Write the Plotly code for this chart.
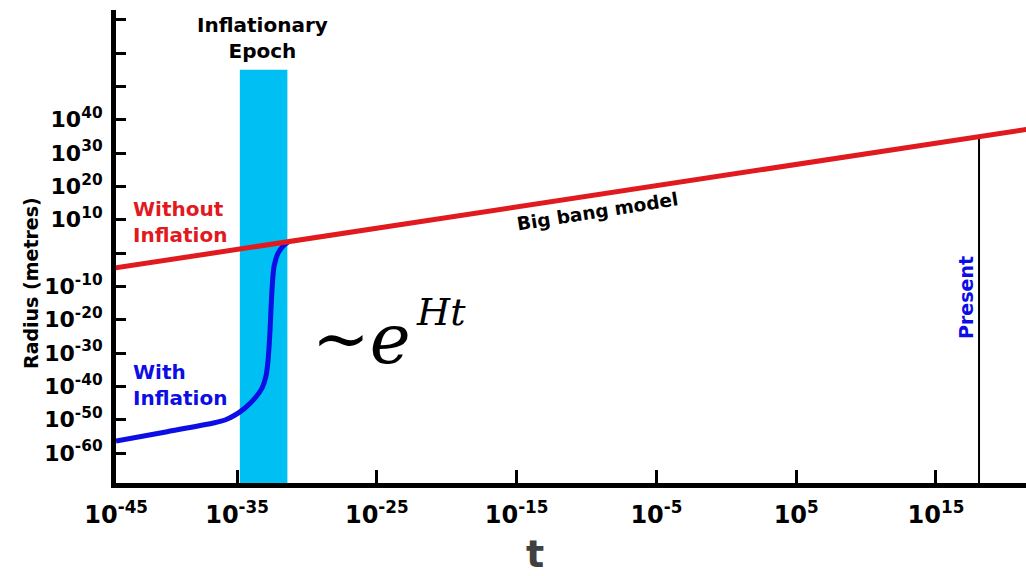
import plotly.graph_objects as go

# ---------------- data (log10 exponents) ----------------
x_tick_exp = [-45, -35, -25, -15, -5, 5, 15]
y_tick_exp = [-60, -50, -40, -30, -20, -10, 0, 10, 20, 30, 40, 50, 60, 70]
y_labelled = [-60, -50, -40, -30, -20, -10, 10, 20, 30, 40]

# "Without inflation" (big bang model) line
red_t_exp = [-45.0, 22.0]
red_r_exp = [-5.3, 37.4]

# "With inflation" curve
blue_t_exp = [-43.66, -40.0, -36.7, -35.86, -35.14, -34.43, -33.71, -33.21, -32.93,
              -32.78, -32.64, -32.5, -32.35, -32.06, -31.7, -31.35]
blue_r_exp = [-56.4, -53.6, -51.0, -50.1, -48.6, -46.5, -43.5, -40.5, -36.9,
              -32.1, -23.1, -11.1, -3.9, 0.0, 2.1, 3.3]

# inflationary epoch band
band_t_exp = [-34.8, -31.4]
band_top_exp = 55.0

# present day
present_t_exp = 18.08
present_r_exp = 34.8

# ---------------- layout geometry ----------------
W, H = 1026, 576
L, R, T, B = 116, 0, 10, 93
x_range = [-43.66, 21.44]
y_range = [-69.0, 72.9]

def p10(v):
    return 10.0 ** float(v)

def px(xp):
    return (xp - L) / (W - L - R)

def py(yp):
    return (H - B - yp) / (H - B - T)

RED = "#E01A1E"
BLUE = "#0D0DE6"
CYAN = "#00BFF2"
FONT = "DejaVu Sans"

fig = go.Figure()

# band
fig.add_trace(go.Scatter(
    x=[p10(band_t_exp[0]), p10(band_t_exp[0]), p10(band_t_exp[1]), p10(band_t_exp[1]), p10(band_t_exp[0])],
    y=[p10(y_range[0]), p10(band_top_exp), p10(band_top_exp), p10(y_range[0]), p10(y_range[0])],
    fill="toself", fillcolor=CYAN, line=dict(width=0), mode="lines",
    hoverinfo="skip", showlegend=False))

# present line
fig.add_trace(go.Scatter(
    x=[p10(present_t_exp), p10(present_t_exp)],
    y=[p10(y_range[0]), p10(present_r_exp)],
    mode="lines", line=dict(color="black", width=2), showlegend=False))

# with inflation
fig.add_trace(go.Scatter(
    x=[p10(v) for v in blue_t_exp], y=[p10(v) for v in blue_r_exp],
    mode="lines", line=dict(color=BLUE, width=5, shape="spline", smoothing=0.8),
    showlegend=False))

# without inflation
fig.add_trace(go.Scatter(
    x=[p10(v) for v in red_t_exp], y=[p10(v) for v in red_r_exp],
    mode="lines", line=dict(color=RED, width=5), showlegend=False))

x_tickvals = [p10(x_range[0] + 0.01)] + [p10(v) for v in x_tick_exp[1:]]
x_ticktext = [f"10<sup>{v}</sup>" for v in x_tick_exp]
y_tickvals = [p10(v) for v in y_tick_exp]
y_ticktext = [f"10<sup>{v}</sup>" if v in y_labelled else "" for v in y_tick_exp]

fig.update_xaxes(type="log", range=x_range, showgrid=False, zeroline=False,
                 showline=True, linecolor="black", linewidth=5,
                 ticks="inside", ticklen=13, tickwidth=3, tickcolor="black",
                 tickvals=x_tickvals, ticktext=x_ticktext, ticklabelstandoff=6,
                 tickfont=dict(family=FONT, size=24, color="black", weight="bold"))
fig.update_yaxes(type="log", range=y_range, showgrid=False, zeroline=False,
                 showline=True, linecolor="black", linewidth=5,
                 ticks="inside", ticklen=10, tickwidth=3, tickcolor="black",
                 tickvals=y_tickvals, ticktext=y_ticktext, ticklabelstandoff=4,
                 tickfont=dict(family=FONT, size=22, color="black", weight="bold"))

ann = []
def add(text, x, y, size, color="black", angle=0, xanchor="center", align="center",
        family=FONT, weight="bold", style="normal"):
    ann.append(dict(text=text, x=px(x), y=py(y), xref="paper", yref="paper",
                    showarrow=False, textangle=angle, xanchor=xanchor, yanchor="middle",
                    align=align,
                    font=dict(family=family, size=size, color=color, weight=weight, style=style)))

add("Inflationary<br>Epoch", 262, 38, 20)
add("Without<br>Inflation", 131, 222, 20, RED, xanchor="left", align="left")
add("With<br>Inflation", 131, 385, 20, BLUE, xanchor="left", align="left")
add("Big bang model", 597, 211, 18.5, angle=-9)
add("Present", 966, 298, 19, BLUE, angle=-90)
add("Radius (metres)", 31, 283, 19, angle=-90)
add("t", 535, 554, 38, "#404040")
add("~<i>e</i>", 361, 339, 69, family="DejaVu Serif", weight="normal")
add("<i>Ht</i>", 441, 312, 38, family="DejaVu Serif", weight="normal")

fig.update_layout(width=W, height=H, margin=dict(l=L, r=R, t=T, b=B, pad=0),
                  plot_bgcolor="white", paper_bgcolor="white",
                  annotations=ann, showlegend=False)

fig.write_html("out.html")
